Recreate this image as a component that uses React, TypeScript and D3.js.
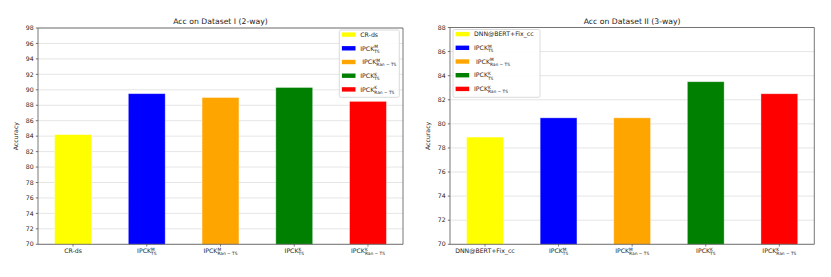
import React from "react";
import * as d3 from "d3";

type Lab = { base: string; sup?: string; sub?: string; lead?: number };

const labels1: Lab[] = [
  { base: "CR-ds" },
  { base: "IPCK", sup: "M", sub: "TS" },
  { base: "IPCK", sup: "M", sub: "Ran − TS" },
  { base: "IPCK", sup: "K", sub: "TS" },
  { base: "IPCK", sup: "K", sub: "Ran − TS" },
];
const labels2: Lab[] = [
  { base: "DNN@BERT+Fix_cc" },
  { base: "IPCK", sup: "M", sub: "TS" },
  { base: "IPCK", sup: "M", sub: "Ran − TS" },
  { base: "IPCK", sup: "K", sub: "TS" },
  { base: "IPCK", sup: "K", sub: "Ran − TS" },
];
const values1 = [84.2, 89.5, 89.0, 90.3, 88.5];
const values2 = [78.9, 80.5, 80.5, 83.5, 82.5];
const barColors = ["#ffff00", "#0000ff", "#ffa500", "#008000", "#ff0000"];
const yTicks1 = d3.range(70, 99, 2);
const yTicks2 = d3.range(70, 89, 2);
const titles = ["Acc on Dataset I (2-way)", "Acc on Dataset II (3-way)"];
const yLabel = "Accuracy";

const FONT = "'DejaVu Sans', sans-serif";
const FS = 6.2;

let ctx: CanvasRenderingContext2D | null = null;
function measure(t: string, fs: number) {
  if (!ctx) ctx = document.createElement("canvas").getContext("2d");
  if (!ctx) return t.length * fs * 0.6;
  ctx.font = `${fs}px "DejaVu Sans"`;
  return ctx.measureText(t).width;
}

function MathLabel({ x, y, lab, fs, anchor }: { x: number; y: number; lab: Lab; fs: number; anchor: "middle" | "start" }) {
  const sfs = fs * 0.7;
  const wb = measure(lab.base, fs);
  const ws = lab.sup ? measure(lab.sup, sfs) : 0;
  const wsub = lab.sub ? measure(lab.sub, sfs) : 0;
  const total = wb + Math.max(ws, wsub);
  const x0 = anchor === "middle" ? x - total / 2 : x;
  return (
    <g fill="#222" style={{ fontFamily: FONT }}>
      <text x={x0} y={y} fontSize={fs}>{lab.base}</text>
      {lab.sup && <text x={x0 + wb} y={y - fs * 0.38} fontSize={sfs}>{lab.sup}</text>}
      {lab.sub && <text x={x0 + wb} y={y + fs * 0.35} fontSize={sfs}>{lab.sub}</text>}
    </g>
  );
}

type ChartProps = {
  left: number; right: number; top: number; bottom: number;
  domain: [number, number]; ticks: number[]; values: number[]; labels: Lab[];
  title: string; legend: { x: number; y: number; w: number; h: number };
  ylabX: number; spineLeftColor: string; spineLeftW: number;
};

function Chart(p: ChartProps) {
  const x = d3.scaleLinear().domain([-0.475, 4.475]).range([p.left, p.right]);
  const y = d3.scaleLinear().domain(p.domain).range([p.bottom, p.top]);
  const bw = x(0.25) - x(-0.25);
  const rowH = 13.7;
  return (
    <g>
      {p.ticks.map((t) => (
        <line key={"g" + t} x1={p.left} x2={p.right} y1={y(t)} y2={y(t)} stroke="#dedede" strokeWidth={0.8} />
      ))}
      {p.values.map((v, i) => (
        <rect key={"b" + i} x={x(i) - bw / 2} y={y(v)} width={bw} height={y(p.domain[0]) - y(v)}
          fill={barColors[i]} stroke="#ffffff" strokeOpacity={0.45} strokeWidth={0.8} />
      ))}
      <line x1={p.left} x2={p.left} y1={p.top} y2={p.bottom} stroke={p.spineLeftColor} strokeWidth={p.spineLeftW} />
      <line x1={p.right} x2={p.right} y1={p.top} y2={p.bottom} stroke="#555" strokeWidth={0.8} />
      <line x1={p.left} x2={p.right} y1={p.top} y2={p.top} stroke="#555" strokeWidth={0.8} />
      <line x1={p.left} x2={p.right} y1={p.bottom} y2={p.bottom} stroke="#555" strokeWidth={0.8} />
      {p.ticks.map((t) => (
        <g key={"t" + t}>
          <line x1={p.left - 2.2} x2={p.left} y1={y(t)} y2={y(t)} stroke="#555" strokeWidth={0.8} />
          <text x={p.left - 4.4} y={y(t)} dy="0.35em" textAnchor="end" fontSize={FS} fill="#222" style={{ fontFamily: FONT }}>{t}</text>
        </g>
      ))}
      {p.labels.map((l, i) => (
        <g key={"x" + i}>
          <line x1={x(i)} x2={x(i)} y1={p.bottom} y2={p.bottom + 2.2} stroke="#555" strokeWidth={0.8} />
          <MathLabel x={x(i)} y={p.bottom + 9} lab={l} fs={FS} anchor="middle" />
        </g>
      ))}
      <text x={(p.left + p.right) / 2} y={p.top - 4} textAnchor="middle" fontSize={7.7} fill="#222" style={{ fontFamily: FONT }}>{p.title}</text>
      <text transform={`translate(${p.ylabX},${(p.top + p.bottom) / 2}) rotate(-90)`} textAnchor="middle" fontSize={FS} fill="#222" style={{ fontFamily: FONT }}>{yLabel}</text>
      <rect x={p.legend.x} y={p.legend.y} width={p.legend.w} height={p.legend.h} rx={1.5} fill="#fff" fillOpacity={0.9} stroke="#d0d0d0" strokeWidth={0.8} />
      {p.labels.map((l, i) => {
        const cy = p.legend.y + 4.6 + i * rowH;
        return (
          <g key={"l" + i}>
            <rect x={p.legend.x + 2.6} y={cy - 2.2} width={13.6} height={4.4} fill={barColors[i]} />
            <MathLabel x={p.legend.x + 21 + (i === 2 ? 2 : 0)} y={cy + 2.2} lab={l} fs={FS} anchor="start" />
          </g>
        );
      })}
    </g>
  );
}

export default function App() {
  return (
    <div style={{ position: "absolute", left: 0, top: 0 }}>
      <svg width={831} height={277} style={{ display: "block", background: "#fff" }}>
        <Chart left={38} right={403} top={28} bottom={244.3} domain={[70, 98]} ticks={yTicks1}
          values={values1} labels={labels1} title={titles[0]}
          legend={{ x: 339.3, y: 30, w: 60, h: 67.3 }} ylabX={18} spineLeftColor="#555" spineLeftW={0.8} />
        <Chart left={450} right={814.3} top={27.5} bottom={244.3} domain={[70, 88]} ticks={yTicks2}
          values={values2} labels={labels2} title={titles[1]}
          legend={{ x: 453, y: 29.5, w: 87, h: 67.8 }} ylabX={430} spineLeftColor="#aaa" spineLeftW={1.6} />
      </svg>
    </div>
  );
}
